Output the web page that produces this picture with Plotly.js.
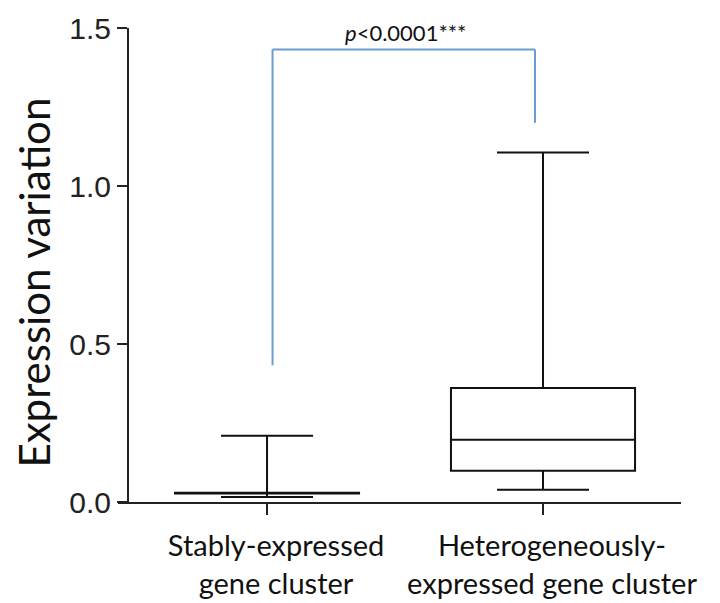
<!DOCTYPE html>
<html>
<head>
<meta charset="utf-8">
<script src="https://cdn.plot.ly/plotly-3.0.1.min.js"></script>
<style>html,body{margin:0;padding:0;background:#fff;}</style>
</head>
<body>
<div id="chart" style="width:720px;height:603px;"></div>
<script>
// Data
const categories = ["Stably-expressed<br>gene cluster", "Heterogeneously-<br>expressed gene cluster"];
const lowerWhisker = [0.016, 0.039];
const q1Values = [0.027, 0.099];
const medianValues = [0.028, 0.197];
const q3Values = [0.029, 0.361];
const upperWhisker = [0.210, 1.106];
const yTickValues = [0, 0.5, 1.0, 1.5];
const yTickLabels = ["0.0", "0.5", "1.0", "1.5"];
const pValueText = "<i>p</i>&lt;0.0001***";
// significance bracket: [left leg bottom, bar height, right leg bottom]
const bracketLevels = [0.433, 1.432, 1.2];

const trace = {
  type: "box",
  x: categories,
  q1: q1Values,
  median: medianValues,
  q3: q3Values,
  lowerfence: lowerWhisker,
  upperfence: upperWhisker,
  boxpoints: false,
  width: 0.667,
  whiskerwidth: 0.5,
  fillcolor: "rgba(255,255,255,0)",
  line: { color: "#111111", width: 2 },
  hoverinfo: "skip",
  showlegend: false
};

const bracketColor = "#6b9bd2";
const layout = {
  width: 720,
  height: 603,
  margin: { l: 118, r: 39, t: 28, b: 101 },
  paper_bgcolor: "#ffffff",
  plot_bgcolor: "#ffffff",
  showlegend: false,
  xaxis: {
    type: "category",
    range: [-0.54, 1.5],
    showline: true,
    linecolor: "#222222",
    linewidth: 2,
    ticks: "outside",
    ticklen: 11,
    tickwidth: 2,
    tickcolor: "#222222",
    showgrid: false,
    zeroline: false,
    ticklabelstandoff: 6,
    ticklabelshift: 9,
    tickfont: { family: "Lato, 'Open Sans', sans-serif", size: 29, color: "#111111" }
  },
  yaxis: {
    range: [0, 1.5],
    anchor: "free",
    position: 0.0178,
    showline: true,
    linecolor: "#222222",
    linewidth: 2,
    ticks: "outside",
    ticklen: 10,
    tickwidth: 2,
    tickcolor: "#222222",
    tickvals: yTickValues,
    ticktext: yTickLabels,
    showgrid: false,
    zeroline: false,
    tickfont: { family: "'Liberation Sans', Arial, sans-serif", size: 30, color: "#222222" }
  },
  shapes: [
    { type: "line", xref: "x", yref: "y", x0: 0.02, x1: 0.02, y0: bracketLevels[0], y1: bracketLevels[1], line: { color: bracketColor, width: 2 } },
    { type: "line", xref: "x", yref: "y", x0: 0.02, x1: 0.971, y0: bracketLevels[1], y1: bracketLevels[1], line: { color: bracketColor, width: 2 } },
    { type: "line", xref: "x", yref: "y", x0: 0.971, x1: 0.971, y0: bracketLevels[2], y1: bracketLevels[1], line: { color: bracketColor, width: 2 } }
  ],
  annotations: [
    { text: pValueText, xref: "x", yref: "y", x: 0.5, y: bracketLevels[1], yanchor: "bottom", yshift: 1, showarrow: false,
      font: { family: "Lato, 'Open Sans', sans-serif", size: 22, color: "#111111" } },
    { text: "Expression variation", xref: "paper", yref: "paper", x: -0.15, y: 0.462, xanchor: "center", yanchor: "middle",
      textangle: -90, showarrow: false, font: { family: "Lato, 'Open Sans', sans-serif", size: 42, color: "#111111" } }
  ]
};

Plotly.newPlot("chart", [trace], layout, { staticPlot: true, displayModeBar: false });
</script>
</body>
</html>
